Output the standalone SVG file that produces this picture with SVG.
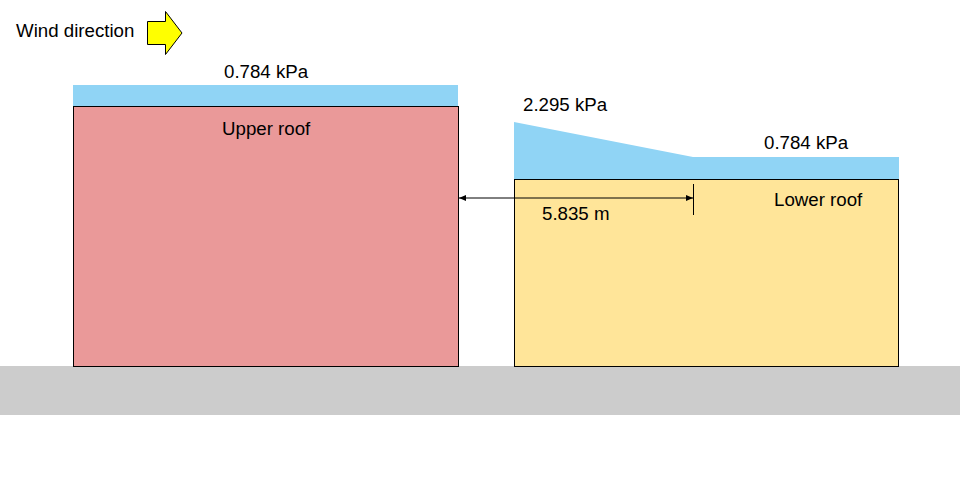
<svg xmlns="http://www.w3.org/2000/svg" width="960" height="501" viewBox="0 0 960 501">
<style>
text{font-family:"Liberation Sans",Arial,sans-serif;font-size:18.7px;fill:#000}
.load{fill:#90d4f5}
.ln{stroke:#000;stroke-width:1;fill:none}
</style>
<defs>
<marker id="ah" markerWidth="8" markerHeight="8" refX="7" refY="4" orient="auto-start-reverse" markerUnits="userSpaceOnUse">
<path d="M0,1 L7,4 L0,7 Z" fill="#000"/>
</marker>
</defs>
<rect width="960" height="501" fill="#fff"/>
<g id="ground"><rect x="0" y="366" width="960" height="49" fill="#cccccc"/></g>
<g id="wind">
<text x="16" y="37">Wind direction</text>
<path d="M147.5,21.5 H165.5 V11.5 L182,33 L165.5,54.5 V44.5 H147.5 Z" fill="#ffff00" stroke="#000"/>
</g>
<g id="upper-load">
<rect class="load" x="73" y="85" width="385" height="21"/>
<text x="224" y="78">0.784 kPa</text>
</g>
<g id="upper-roof">
<rect x="73.5" y="106.5" width="385" height="260" fill="#ea9999" stroke="#000"/>
<text x="222" y="135">Upper roof</text>
</g>
<g id="lower-load">
<path class="load" d="M514,122 L693,157 H899 V179 H514 Z"/>
<text x="523" y="111">2.295 kPa</text>
<text x="764" y="149">0.784 kPa</text>
</g>
<g id="lower-roof">
<rect x="514.5" y="179.5" width="384" height="187" fill="#ffe599" stroke="#000"/>
<text x="774" y="206">Lower roof</text>
</g>
<g id="connectors">
<line class="ln" x1="459" y1="198" x2="693" y2="198" marker-start="url(#ah)" marker-end="url(#ah)"/>
<line class="ln" x1="693.5" y1="184" x2="693.5" y2="215"/>
<text x="542" y="220">5.835 m</text>
</g>
</svg>
